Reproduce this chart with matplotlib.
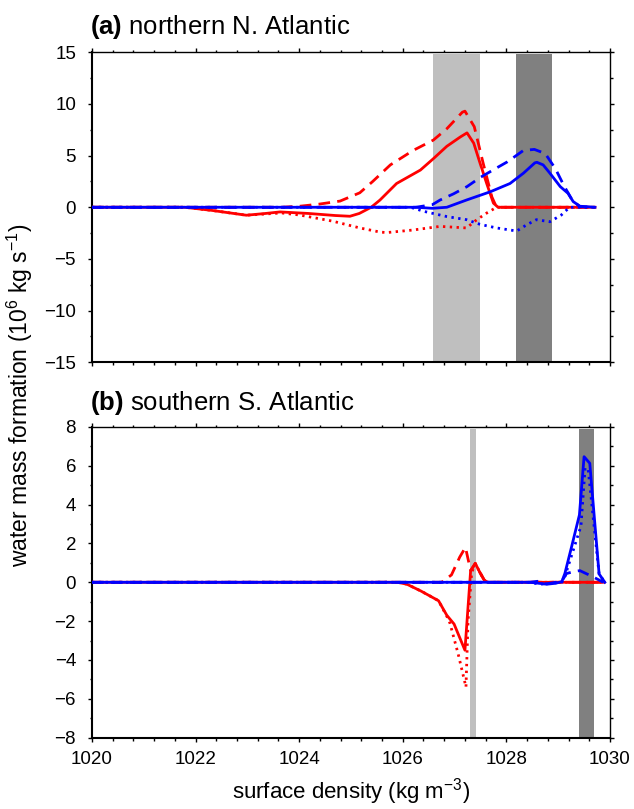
import matplotlib
matplotlib.use("Agg")
import matplotlib.pyplot as plt
from matplotlib.ticker import MultipleLocator

plt.rcParams['font.family'] = ['Liberation Sans', 'DejaVu Sans']
plt.rcParams['mathtext.fontset'] = 'custom'
plt.rcParams['mathtext.rm'] = 'Liberation Sans'
plt.rcParams['mathtext.bf'] = 'Liberation Sans:bold'
plt.rcParams['mathtext.it'] = 'Liberation Sans:italic'

# ---- panel (a): northern N. Atlantic ----
a_red_solid_x = [1020, 1021.79, 1022.31, 1022.98, 1023.35, 1023.63, 1024.18, 1024.70, 1024.98, 1025.16,
                 1025.39, 1025.56, 1025.88, 1026.34, 1026.59, 1026.85, 1027.11, 1027.24, 1027.37,
                 1027.49, 1027.62, 1027.75, 1027.84, 1028.54, 1029.71]
a_red_solid_y = [0, 0, -0.3, -0.77, -0.6, -0.45, -0.6, -0.8, -0.87, -0.6,
                 0.0, 0.7, 2.3, 3.6, 4.7, 5.9, 6.8, 7.2, 6.2,
                 4.3, 2.3, 0.4, 0.0, 0.0, 0.0]
a_red_dash_x = [1020, 1023.66, 1024.01, 1024.38, 1024.79, 1025.17, 1025.42, 1025.76, 1026.20, 1026.59,
                1026.85, 1027.15, 1027.20, 1027.38, 1027.55, 1027.72, 1027.81, 1029.71]
a_red_dash_y = [0, 0, 0.1, 0.3, 0.6, 1.4, 2.5, 4.1, 5.5, 6.5,
                7.6, 9.2, 9.3, 7.8, 4.3, 1.0, 0, 0]
a_red_dot_x = [1020, 1021.79, 1022.31, 1022.98, 1023.35, 1023.66, 1024.01, 1024.65, 1025.17, 1025.56,
               1025.69, 1026.20, 1026.72, 1027.23, 1027.43, 1027.62, 1027.81, 1029.71]
a_red_dot_y = [0, 0, -0.3, -0.77, -0.65, -0.55, -0.75, -1.35, -2.0, -2.4,
               -2.45, -2.2, -1.85, -2.0, -1.2, -0.56, 0, 0]
a_blue_solid_x = [1020, 1026.25, 1026.57, 1026.85, 1027.23, 1027.69, 1028.07, 1028.33, 1028.55, 1028.59,
                  1028.71, 1028.84, 1029.04, 1029.19, 1029.29, 1029.42, 1029.71]
a_blue_solid_y = [0, 0, -0.1, 0.0, 0.7, 1.5, 2.3, 3.3, 4.3, 4.35,
                  4.1, 3.3, 2.0, 1.35, 0.55, 0.1, 0]
a_blue_dash_x = [1020, 1026.25, 1026.57, 1026.72, 1026.98, 1027.24, 1027.50, 1027.81, 1028.02, 1028.33,
                 1028.54, 1028.75, 1028.95, 1029.11, 1029.27, 1029.42, 1029.71]
a_blue_dash_y = [0, 0, 0.25, 0.7, 1.3, 2.0, 2.9, 3.8, 4.4, 5.5,
                 5.6, 5.2, 3.7, 2.1, 0.7, 0.05, 0]
a_blue_dot_x = [1020, 1026.15, 1026.41, 1026.85, 1027.23, 1027.49, 1027.81, 1028.20, 1028.39, 1028.58,
                1028.84, 1029.06, 1029.22, 1029.71]
a_blue_dot_y = [0, 0, -0.4, -0.9, -1.2, -1.65, -2.0, -2.3, -1.7, -1.2,
                -1.4, -0.75, 0.0, 0]
a_light_band = (1026.59, 1027.49)
a_dark_band = (1028.19, 1028.89)

# ---- panel (b): southern S. Atlantic ----
b_red_solid_x = [1020, 1025.9, 1026.08, 1026.35, 1026.69, 1026.85, 1026.99, 1027.20, 1027.31, 1027.40,
                 1027.49, 1027.58, 1027.65, 1029.89]
b_red_solid_y = [0, 0, -0.1, -0.45, -0.95, -1.7, -2.15, -3.5, 0.6, 0.97,
                 0.5, 0.08, 0, 0]
b_red_dot_x = [1020, 1025.9, 1026.08, 1026.35, 1026.69, 1026.85, 1026.91, 1027.07, 1027.22, 1027.26,
               1027.33, 1027.40, 1027.49, 1027.58, 1027.65, 1029.89]
b_red_dot_y = [0, 0, -0.1, -0.45, -0.95, -1.75, -2.1, -3.7, -5.4, -2.0,
               0.5, 0.97, 0.5, 0.08, 0, 0]
b_red_dash_x = [1020, 1026.75, 1026.94, 1027.10, 1027.21, 1027.26, 1027.31, 1027.40, 1027.49, 1027.58,
                1027.65, 1029.89]
b_red_dash_y = [0, 0, 0.38, 1.3, 1.8, 1.2, 0.6, 0.97, 0.5, 0.08,
                0, 0]
b_blue_solid_x = [1020, 1028.46, 1028.62, 1028.78, 1028.95, 1029.07, 1029.13, 1029.26, 1029.41, 1029.50,
                  1029.61, 1029.79, 1029.90]
b_blue_solid_y = [0, 0, -0.05, -0.1, -0.05, 0.03, 0.46, 1.84, 3.47, 6.47,
                  6.13, 0.43, 0]
b_blue_dot_x = [1020, 1028.45, 1028.65, 1028.85, 1029.07, 1029.13, 1029.44, 1029.52, 1029.58, 1029.79, 1029.90]
b_blue_dot_y = [0, 0, -0.1, -0.05, 0, 0.3, 2.9, 5.9, 5.8, 0.43, 0]
b_blue_dash_x = [1020, 1028.45, 1028.6, 1028.78, 1029.07, 1029.16, 1029.3, 1029.42, 1029.68, 1029.87]
b_blue_dash_y = [0, 0, 0.05, -0.08, 0.05, 0.45, 0.55, 0.6, 0.27, 0]
b_light_band = (1027.30, 1027.41)
b_dark_band = (1029.40, 1029.70)

LW = 2.0
DASH = (4.2, 2.6)
DOT = (0.85, 1.6)


def style_axes(ax, ylim, ymajor, yminor):
    ax.set_xlim(1020, 1030)
    ax.set_ylim(*ylim)
    ax.xaxis.set_major_locator(MultipleLocator(2))
    ax.xaxis.set_minor_locator(MultipleLocator(0.4))
    ax.yaxis.set_major_locator(MultipleLocator(ymajor))
    ax.yaxis.set_minor_locator(MultipleLocator(yminor))
    ax.tick_params(which='both', direction='out', top=True, right=True, labelsize=13.5, width=1.0)
    ax.tick_params(which='major', length=3)
    ax.tick_params(which='minor', length=1.8)
    ax.tick_params(axis='y', which='major', pad=8.5)
    ax.tick_params(axis='x', which='major', pad=6.5)
    for s in ['left', 'bottom']:
        ax.spines[s].set_linewidth(1.5)
    for s in ['top', 'right']:
        ax.spines[s].set_linewidth(1.0)


def draw_panel(ax, series, light, dark, ytop, ybot):
    ax.fill_between(light, ybot, ytop, color='#bfbfbf', lw=0, zorder=1)
    ax.fill_between(dark, ybot, ytop, color='#808080', lw=0, zorder=1)
    for x, y, color, ls in series:
        line, = ax.plot(x, y, color=color, lw=LW, zorder=3)
        if ls == 'dash':
            line.set_dashes(DASH)
        elif ls == 'dot':
            line.set_dashes(DOT)


fig = plt.figure(figsize=(6.34, 8.09), dpi=100)
ax1 = fig.add_axes([0.1451, 0.5522, 0.8170, 0.3832])
ax2 = fig.add_axes([0.1451, 0.0883, 0.8170, 0.3839])

draw_panel(ax1, [
    (a_red_dot_x, a_red_dot_y, 'red', 'dot'),
    (a_red_dash_x, a_red_dash_y, 'red', 'dash'),
    (a_red_solid_x, a_red_solid_y, 'red', 'solid'),
    (a_blue_dot_x, a_blue_dot_y, 'blue', 'dot'),
    (a_blue_dash_x, a_blue_dash_y, 'blue', 'dash'),
    (a_blue_solid_x, a_blue_solid_y, 'blue', 'solid'),
], a_light_band, a_dark_band, 14.8, -15)

draw_panel(ax2, [
    (b_red_dot_x, b_red_dot_y, 'red', 'dot'),
    (b_red_dash_x, b_red_dash_y, 'red', 'dash'),
    (b_red_solid_x, b_red_solid_y, 'red', 'solid'),
    (b_blue_dot_x, b_blue_dot_y, 'blue', 'dot'),
    (b_blue_dash_x, b_blue_dash_y, 'blue', 'dash'),
    (b_blue_solid_x, b_blue_solid_y, 'blue', 'solid'),
], b_light_band, b_dark_band, 7.9, -8)

style_axes(ax1, (-15, 15), 5, 2.5)
style_axes(ax2, (-8, 8), 2, 1)
ax1.set_xticklabels([])

ax1.text(-0.004, 1.08, r'$\mathbf{(a)}$ northern N. Atlantic', transform=ax1.transAxes,
         fontsize=18.5, ha='left', va='center')
ax2.text(-0.004, 1.077, r'$\mathbf{(b)}$ southern S. Atlantic', transform=ax2.transAxes,
         fontsize=18.5, ha='left', va='center')

fig.text(0.1451 + 0.8170 / 2, 0.021, r'surface density (kg m$^{-3}$)', fontsize=16,
         ha='center', va='center')
fig.text(0.032, 0.512, r'water mass formation (10$^{6}$ kg s$^{-1}$)', rotation=90,
         fontsize=16.5, ha='center', va='center')

fig.savefig('out.png', dpi=100)
